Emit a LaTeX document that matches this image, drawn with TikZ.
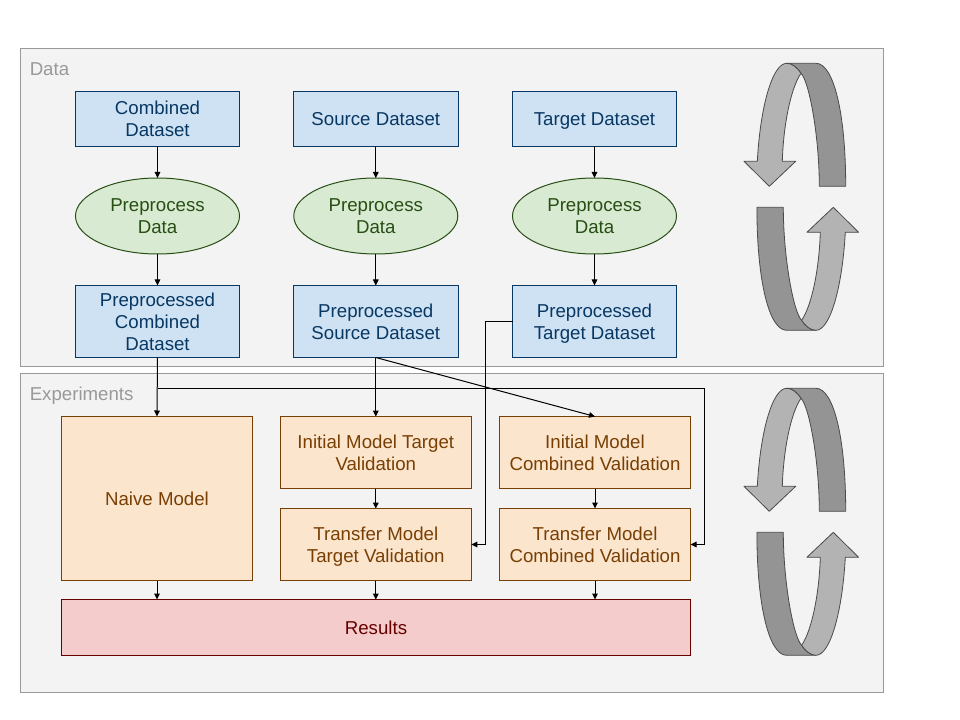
\documentclass[tikz,border=0pt]{standalone}
\usepackage{fontspec}
\setmainfont{Liberation Sans}
\usetikzlibrary{arrows.meta,shapes.geometric}
\definecolor{panelfill}{HTML}{F3F3F3}
\definecolor{panelline}{HTML}{999999}
\definecolor{blueF}{HTML}{CFE2F3}
\definecolor{blueL}{HTML}{073763}
\definecolor{greenF}{HTML}{D9EAD3}
\definecolor{greenL}{HTML}{274E13}
\definecolor{orangeF}{HTML}{FCE5CD}
\definecolor{orangeL}{HTML}{783F04}
\definecolor{redF}{HTML}{F4CCCC}
\definecolor{redL}{HTML}{660000}
\definecolor{darkband}{HTML}{949494}
\definecolor{lightband}{HTML}{B3B3B3}
\definecolor{bandline}{HTML}{4A4A4A}
\newcommand{\ls}{\rule[-3.25pt]{0pt}{16.5pt}}
\tikzset{
  txt/.style={font=\fontsize{14}{16.5}\selectfont,align=center,inner sep=0pt,outer sep=0pt,line width=0.75pt},
  panel/.style={draw=panelline,fill=panelfill,inner sep=0pt,outer sep=0pt,line width=0.75pt},
  paneltitle/.style={font=\fontsize{14}{16.5}\selectfont,text=panelline,anchor=base west,inner sep=0pt},
  bluebox/.style={txt,rectangle,draw=blueL,fill=blueF,text=blueL},
  greenell/.style={txt,ellipse,draw=greenL,fill=greenF,text=greenL,minimum width=123pt,minimum height=57pt},
  orangebox/.style={txt,rectangle,draw=orangeL,fill=orangeF,text=orangeL},
  redbox/.style={txt,rectangle,draw=redL,fill=redF,text=redL},
  size/.style 2 args={minimum width=#1*0.75pt,minimum height=#2*0.75pt},
  conn/.style={draw=black,line width=0.75pt,-{Triangle[length=4.5pt,width=4.2pt]}},
  cyclearrow/.pic={
    \draw[fill=darkband,draw=bandline,line width=0.6pt,line join=round]
      (-14.6,-133.5) -- (14.7,-133.5)
      .. controls (32,-133.5) and (44.4,-85) .. (44.4,-10.5)
      -- (18,-10.5)
      .. controls (18,-60) and (8,-115) .. (-0.3,-123.5)
      .. controls (-4,-129) and (-9,-133.5) .. (-14.6,-133.5) -- cycle;
    \draw[fill=lightband,draw=bandline,line width=0.6pt,line join=round]
      (-14.6,-133.5)
      .. controls (-29,-133.5) and (-41,-90) .. (-44,-35.5)
      -- (-57.3,-35.5) -- (-32,-10.5) -- (-5.6,-35.5) -- (-19,-35.5)
      .. controls (-18,-70) and (-11,-108) .. (-0.3,-123.5)
      .. controls (-4,-129) and (-9,-133.5) .. (-14.6,-133.5) -- cycle;
  }
}
\begin{document}
\begin{tikzpicture}[x=0.75pt,y=-0.75pt]
\useasboundingbox (0,0) rectangle (960,720);
\fill[white] (0,0) rectangle (960,720);
% panels
\node[panel,size={863}{318}] (datapanel) at (452,207.5) {};
\node[panel,size={863}{319}] (exppanel) at (452,533) {};
\node[paneltitle] (datatitle) at (29.5,76) {Data};
\node[paneltitle] (exptitle) at (29.5,400.5) {Experiments};
% data row
\node[bluebox,size={164}{55}] (cd) at (157.5,119) {\ls Combined\\\ls Dataset};
\node[bluebox,size={165}{55}] (sd) at (375.8,119) {\ls Source Dataset};
\node[bluebox,size={164}{55}] (td) at (594.5,119) {\ls Target Dataset};
\node[greenell] (pa) at (157.5,216) {\ls Preprocess\\\ls Data};
\node[greenell] (pb) at (375.8,216) {\ls Preprocess\\\ls Data};
\node[greenell] (pc) at (594.5,216) {\ls Preprocess\\\ls Data};
\node[bluebox,size={164}{72}] (pcd) at (157.5,321.5) {\ls Preprocessed\\\ls Combined\\\ls Dataset};
\node[bluebox,size={165}{72}] (psd) at (375.8,321.5) {\ls Preprocessed\\\ls Source Dataset};
\node[bluebox,size={164}{72}] (ptd) at (594.5,321.5) {\ls Preprocessed\\\ls Target Dataset};
% experiments
\node[orangebox,size={191}{164}] (naive) at (157,498.5) {\ls Naive Model};
\node[orangebox,size={191}{72}] (imt) at (375.8,452.5) {\ls Initial Model Target\\\ls Validation};
\node[orangebox,size={191}{72}] (tmt) at (375.8,544.5) {\ls Transfer Model\\\ls Target Validation};
\node[orangebox,size={191}{72}] (imc) at (595,452.5) {\ls Initial Model\\\ls Combined Validation};
\node[orangebox,size={191}{72}] (tmc) at (595,544.5) {\ls Transfer Model\\\ls Combined Validation};
\node[redbox,size={629}{56}] (res) at (376,627.5) {\ls Results};
% connectors
\foreach \a/\b in {cd/pa,sd/pb,td/pc,pa/pcd,pb/psd,pc/ptd,psd/imt,imt/tmt,imc/tmc}
  \draw[conn] (\a.south) -- (\b.north);
\draw[conn] (pcd.south) -- (naive.north);
\draw[conn] (psd.south) -- (imc.north);
\draw[conn] (tmt.south) -- (tmt.south |- res.north);
\draw[conn] (tmc.south) -- (tmc.south |- res.north);
\draw[conn] (naive.south) -- (naive.south |- res.north);
\coordinate (junction) at (157.5,388.5);
\coordinate (rightbend) at (704.5,388.5);
\draw[conn] (junction) -- (rightbend) |- (tmc.east);
\coordinate (targetbend) at (485.5,321.5);
\draw[conn] (ptd.west) -- (targetbend) |- (tmt.east);
% cycle icons
\pic at (801.3,196.8) {cyclearrow};
\pic[rotate=180] at (801.3,196.8) {cyclearrow};
\pic at (801.3,521.8) {cyclearrow};
\pic[rotate=180] at (801.3,521.8) {cyclearrow};
\end{tikzpicture}
\end{document}
